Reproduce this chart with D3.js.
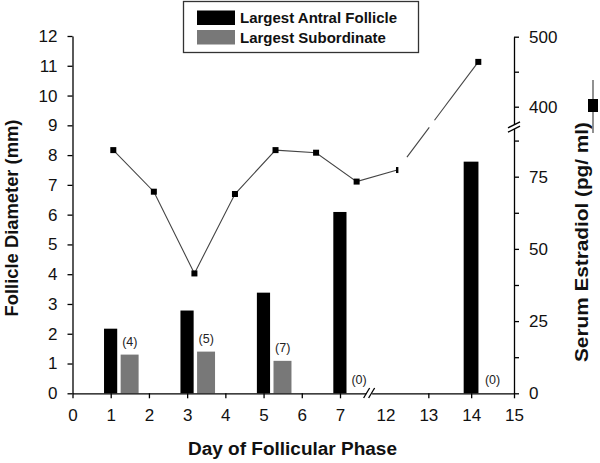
<!DOCTYPE html>
<html><head><meta charset="utf-8">
<script src="https://cdn.jsdelivr.net/npm/d3@7"></script>
<style>
body{margin:0;background:#fff;}
text{font-family:"Liberation Sans",Arial,sans-serif;}
</style></head>
<body><svg id="c" width="600" height="463"></svg>
<script>
// ---- data ----
const barDays = [1, 3, 5, 7, 14];
const largestAntral = [2.17, 2.78, 3.38, 6.09, 7.78];
const largestSubordinate = [1.30, 1.40, 1.09, 0, 0];
const subordinateCounts = ["(4)", "(5)", "(7)", "(0)", "(0)"];

const estradiolDays = ["1","2","3","4","5","6","7","12","13","14"];
const estradiolValues = [84.2, 69.8, 41.5, 69.0, 84.2, 83.3, 73.3, 77.3, null, 464];

const xTickValues = [0,1,2,3,4,5,6,7,12,13,14,15];
const leftTickValues = d3.range(0, 13);
const rightTickValues = [0,12.5,25,37.5,50,62.5,75,87.5,400,450,500];
const rightLabelValues = [0,25,50,75,400,500];

// ---- scales ----
const svg = d3.select("#c");
const x = d3.scaleLinear().domain([0,7,12,15]).range([72.5,340,385.5,514]);
const yL = d3.scaleLinear().domain([0,12]).range([393.3,36]);
const yR = d3.scaleLinear().domain([0,92.2,371,500]).range([393.3,127,127,36.7]);
const xLine = d3.scalePoint().domain(estradiolDays).range([113.3,478.3]);

const grey = "#787878";
const unit = d => x(d) - x(d - 1);

// ---- bars ----
svg.append("g").selectAll("rect").data(barDays).join("rect")
  .attr("x", d => x(d) - 0.175*unit(d)).attr("width", d => 0.345*unit(d))
  .attr("y", (d,i) => yL(largestAntral[i])).attr("height", (d,i) => yL(0) - yL(largestAntral[i]))
  .attr("fill", "#000");
svg.append("g").selectAll("rect").data(barDays.filter((d,i)=>largestSubordinate[i]>0)).join("rect")
  .attr("x", d => x(d) + 0.26*unit(d)).attr("width", d => 0.47*unit(d))
  .attr("y", (d,i) => yL(largestSubordinate[i])).attr("height", (d,i) => yL(0) - yL(largestSubordinate[i]))
  .attr("fill", grey);
svg.append("g").selectAll("text").data(barDays).join("text")
  .attr("x", d => x(d) + 0.5*unit(d)).attr("y", (d,i) => yL(largestSubordinate[i]) - 9)
  .attr("text-anchor","middle").attr("font-size", 12.5).attr("fill","#222")
  .text((d,i) => subordinateCounts[i]);

// ---- axes ----
const xa = svg.append("g").attr("transform","translate(0,393.3)")
  .call(d3.axisBottom(x).tickValues(xTickValues).tickSize(5).tickSizeOuter(0).tickFormat(d3.format("d")));
xa.select(".domain").attr("stroke-width",1.3);
xa.selectAll(".tick line").attr("stroke-width",1.3);
xa.selectAll(".tick").filter(d => d === 12).select("line").remove();
xa.selectAll(".tick text").attr("font-size",17).attr("dy","1.15em").attr("fill","#111");
const la = svg.append("g").attr("transform","translate(72.5,0)")
  .call(d3.axisLeft(yL).tickValues(leftTickValues).tickSize(5).tickSizeOuter(0));
la.select(".domain").attr("stroke-width",1.3);
la.selectAll(".tick line").attr("stroke-width",1.3);
la.selectAll(".tick text").attr("font-size",17).attr("x",-15).attr("fill","#111");
const ra = svg.append("g").attr("transform","translate(514,0)")
  .call(d3.axisRight(yR).tickValues(rightTickValues).tickSize(5).tickSizeOuter(0)
    .tickFormat(d => rightLabelValues.includes(d) ? d : ""));
ra.select(".domain").attr("stroke-width",1.3);
ra.selectAll(".tick line").attr("stroke-width",1.3);
ra.selectAll(".tick text").attr("font-size",17).attr("x",15).attr("fill","#111");

// axis breaks
const brk = svg.append("g");
brk.append("rect").attr("x", x(10.2)-3).attr("y", 390).attr("width", 6).attr("height", 6).attr("fill","#fff");
[-2.5, 2.5].forEach(o => brk.append("line")
  .attr("x1", x(10.2)+o-3).attr("y1", 398).attr("x2", x(10.2)+o+3).attr("y2", 388)
  .attr("stroke","#000").attr("stroke-width",1.3));
brk.append("rect").attr("x", 510).attr("y", yR(92.2)-2).attr("width", 8).attr("height", 4).attr("fill","#fff");
[-2.2, 2.2].forEach(o => brk.append("line")
  .attr("x1", 508).attr("y1", yR(92.2)+o+3).attr("x2", 520).attr("y2", yR(92.2)+o-3)
  .attr("stroke","#000").attr("stroke-width",1.3));

// ---- estradiol line ----
const pts = estradiolDays.map((d,i) => ({d, v: estradiolValues[i]})).filter(p => p.v !== null);
const lineG = svg.append("g").attr("stroke","#444").attr("stroke-width",1.1).attr("fill","none");
lineG.append("path").attr("d", d3.line().x(p => xLine(p.d)).y(p => yR(p.v))(pts.slice(0, 8)));
const a = pts[7], b = pts[8];
const ax = xLine(a.d), ay = yR(a.v), bx = xLine(b.d), by = yR(b.v);
const seg = (t0,t1) => lineG.append("line")
  .attr("x1", ax + (bx-ax)*t0).attr("y1", ay + (by-ay)*t0)
  .attr("x2", ax + (bx-ax)*t1).attr("y2", ay + (by-ay)*t1);
seg(0.12, 0.395); seg(0.46, 1);
svg.append("g").selectAll("rect").data(pts).join("rect")
  .attr("x", p => xLine(p.d) - (p.d === "12" ? 1.2 : 3))
  .attr("y", p => yR(p.v) - 3)
  .attr("width", p => p.d === "12" ? 2.4 : 6).attr("height", 6)
  .attr("fill", "#000");

// ---- titles ----
svg.append("text").attr("transform","translate(18,218) rotate(-90)")
  .attr("text-anchor","middle").attr("font-size",18).attr("font-weight","bold").attr("fill","#111")
  .attr("textLength",197).attr("lengthAdjust","spacingAndGlyphs")
  .text("Follicle Diameter (mm)");
svg.append("text").attr("transform","translate(588,242) rotate(-90)")
  .attr("text-anchor","middle").attr("font-size",18).attr("font-weight","bold").attr("fill","#111")
  .attr("textLength",240).attr("lengthAdjust","spacingAndGlyphs")
  .text("Serum Estradiol (pg/ ml)");
svg.append("text").attr("x",292.5).attr("y",455)
  .attr("text-anchor","middle").attr("font-size",18).attr("font-weight","bold").attr("fill","#111")
  .attr("textLength",209).attr("lengthAdjust","spacingAndGlyphs")
  .text("Day of Follicular Phase");

// right-side series key
svg.append("line").attr("x1",593).attr("x2",593).attr("y1",80).attr("y2",133).attr("stroke","#555").attr("stroke-width",1.3);
svg.append("rect").attr("x",588).attr("y",99).attr("width",10).attr("height",13).attr("fill","#000");

// ---- legend ----
const lg = svg.append("g");
lg.append("rect").attr("x",183.5).attr("y",1.5).attr("width",235).attr("height",51)
  .attr("fill","#fff").attr("stroke","#333").attr("stroke-width",1.3);
const legendItems = [{label:"Largest Antral Follicle", color:"#000"},{label:"Largest Subordinate", color:grey}];
legendItems.forEach((it,i) => {
  lg.append("rect").attr("x",197).attr("y",10.5 + i*19.5).attr("width",38).attr("height",14.5).attr("fill",it.color);
  lg.append("text").attr("x",240).attr("y",23 + i*19.5).attr("font-size",15).attr("font-weight","bold").attr("fill","#111").text(it.label);
});
</script></body></html>
